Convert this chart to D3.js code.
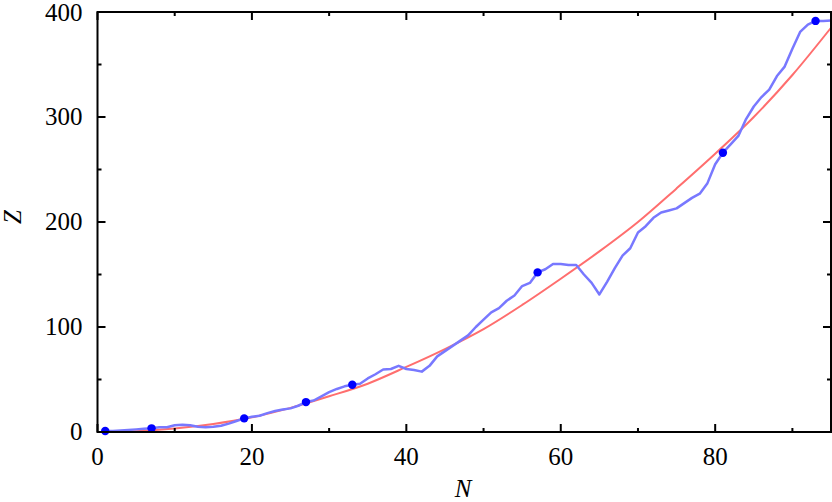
<head>
<style>
    svg text { font-family: "Liberation Serif", "Times New Roman", Times, "DejaVu Serif", "Noto Serif", serif; }
</style>
</head>
<body style="margin:0">
    <div id='chart'></div>
</body>
<script src='https://cdn.jsdelivr.net/npm/d3@7'></script>
<script>
    // blue series: Z at each N
    var blue_n = [1,2,3,4,5,6,7,8,9,10,11,12,13,14,15,16,17,18,19,20,
        21,22,23,24,25,26,27,28,29,30,31,32,33,34,35,36,37,38,39,40,
        41,42,43,44,45,46,47,48,49,50,51,52,53,54,55,56,57,58,59,60,
        61,62,63,64,65,66,67,68,69,70,71,72,73,74,75,76,77,78,79,80,
        81,82,83,84,85,86,87,88,89,90,91,92,93,94,95];
    var blue_z = [1,1,1.5,2,2.5,3,3.5,4.5,4.5,6.5,7,6.5,5,4.5,5,6,8,10.5,13,14.5,
        15.5,18,20,21.5,22.5,25,28.5,30,34,38,41,43.5,45,46,51,55,59.5,60,63,60,
        59,57.5,63,72,77,82,87,92,100,107,114,118,125,130,139,142,152,155,160,160,
        159,159,150,142,131,143,156,168,175,190,196,204,209,211,213,218,223,227,237,255,
        266,274,282,298,310,319,326,339,348,365,381,388,391.5,391.5,392];

    // highlighted samples
    var dot_n = [1, 7, 19, 27, 33, 57, 81, 93];

    // red fitted curve, read every 5
    var red_n = [0,5,10,15,20,25,30,35,40,45,50,55,60,65,70,75,80,85,90,95];
    var red_z = [0,0.8,3.3,7.6,14,23,34,46,62,79,98,121,146,172,200,232,265,300,340,385];

    var x_ticks = [0, 20, 40, 60, 80],
        x_minor = [10, 30, 50, 70, 90],
        y_ticks = [0, 100, 200, 300, 400],
        y_minor = [50, 150, 250, 350];

    var width = 832,
        height = 502;

    var margin = {top: 12, right: 1, bottom: 70, left: 97.5};

    var x = d3.scaleLinear()
        .domain([0, 95])
        .range([margin.left, width - margin.right]);

    var y = d3.scaleLinear()
        .domain([0, 400])
        .range([height - margin.bottom, margin.top]);

    var svg = d3.select('#chart')
        .append('svg')
        .attr('width', width)
        .attr('height', height)
        .style('display', 'block');

    // fitted curve
    svg.append('path')
        .datum(red_n.map(function(d, i){ return [d, red_z[i]]; }))
        .attr('d', d3.line()
            .x(function(d){ return x(d[0]); })
            .y(function(d){ return y(d[1]); })
            .curve(d3.curveMonotoneX))
        .style('fill', 'none')
        .style('stroke', '#ff6e6e')
        .style('stroke-width', 2);

    svg.append('path')
        .datum(blue_n.map(function(d, i){ return [d, blue_z[i]]; }))
        .attr('d', d3.line()
            .x(function(d){ return x(d[0]); })
            .y(function(d){ return y(d[1]); }))
        .style('fill', 'none')
        .style('stroke', '#7878ff')
        .style('stroke-width', 2.5)
        .style('stroke-linejoin', 'round');

    svg.selectAll('circle.pt')
        .data(dot_n)
        .enter()
        .append('circle')
        .attr('class', 'pt')
        .attr('cx', function(d){ return x(d); })
        .attr('cy', function(d){ return y(blue_z[blue_n.indexOf(d)]); })
        .attr('r', 4.2)
        .style('fill', '#0000ff');

    // frame + ticks on all four sides, pointing in
    var x0 = x.range()[0], x1 = x.range()[1],
        y0 = y.range()[0], y1 = y.range()[1];

    function tick_path(){
        var p = '';
        x_ticks.forEach(function(t){
            p += 'M' + x(t) + ',' + y0 + 'v-8' + 'M' + x(t) + ',' + y1 + 'v8';
        });
        x_minor.forEach(function(t){
            p += 'M' + x(t) + ',' + y0 + 'v-4' + 'M' + x(t) + ',' + y1 + 'v4';
        });
        y_ticks.forEach(function(t){
            p += 'M' + x0 + ',' + y(t) + 'h8' + 'M' + x1 + ',' + y(t) + 'h-8';
        });
        y_minor.forEach(function(t){
            p += 'M' + x0 + ',' + y(t) + 'h4' + 'M' + x1 + ',' + y(t) + 'h-4';
        });
        return p;
    }

    svg.append('path')
        .attr('d', tick_path())
        .style('stroke', 'black')
        .style('stroke-width', 2)
        .style('fill', 'none');

    svg.append('rect')
        .attr('x', x0)
        .attr('y', y1)
        .attr('width', x1 - x0)
        .attr('height', y0 - y1)
        .style('fill', 'none')
        .style('stroke', 'black')
        .style('stroke-width', 2);

    svg.selectAll('text.xt')
        .data(x_ticks)
        .enter()
        .append('text')
        .attr('class', 'xt')
        .attr('x', function(d){ return x(d); })
        .attr('y', y0 + 33)
        .attr('text-anchor', 'middle')
        .attr('font-size', 25)
        .text(function(d){ return d; });

    svg.selectAll('text.yt')
        .data(y_ticks)
        .enter()
        .append('text')
        .attr('class', 'yt')
        .attr('x', x0 - 15)
        .attr('y', function(d){ return Math.max(y(d) + 8, 21); })
        .attr('text-anchor', 'end')
        .attr('font-size', 25)
        .text(function(d){ return d; });

    svg.append('text')
        .attr('x', 463)
        .attr('y', 497)
        .attr('text-anchor', 'middle')
        .attr('font-style', 'italic')
        .attr('font-size', 25)
        .text('N');

    svg.append('text')
        .attr('transform', 'translate(21,217) rotate(-90)')
        .attr('text-anchor', 'middle')
        .attr('font-style', 'italic')
        .attr('font-size', 25)
        .text('Z');
</script>
